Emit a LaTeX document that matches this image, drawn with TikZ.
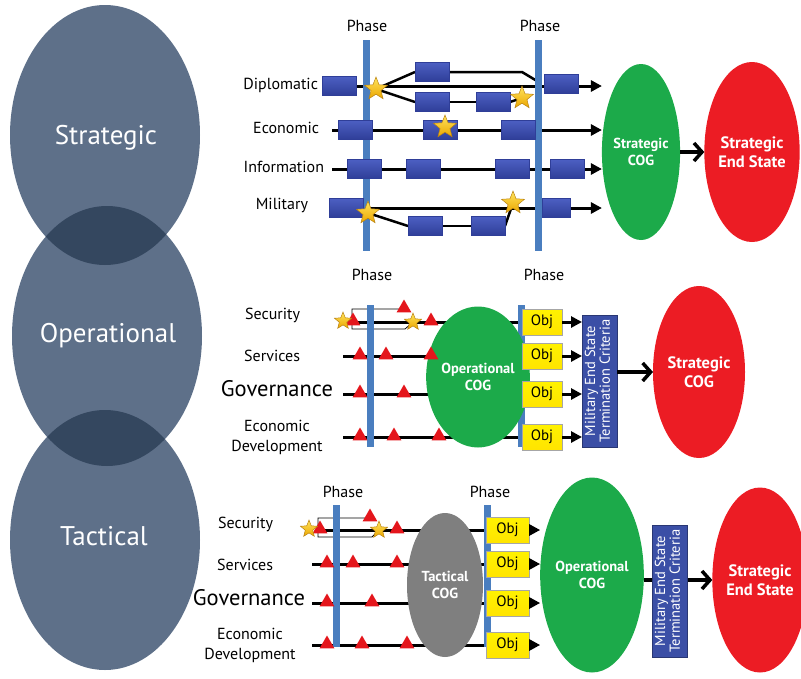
\documentclass[tikz,border=0pt]{standalone}
\usepackage{fontspec}
\setmainfont{PT Sans}
\usetikzlibrary{shapes.geometric,arrows.meta}
\pgfdeclarelayer{bglines}
\pgfsetlayers{bglines,main}
\definecolor{circ}{HTML}{5E7089}
\definecolor{lens}{HTML}{34475F}
\definecolor{phaseblue}{HTML}{4A7EBF}
\definecolor{rblueL}{HTML}{4C5FC2}
\definecolor{rblueD}{HTML}{2F3E98}
\definecolor{starL}{HTML}{FFE45C}
\definecolor{starD}{HTML}{EBA600}
\definecolor{starO}{HTML}{B98212}
\definecolor{triR}{HTML}{E4161C}
\definecolor{cogG}{HTML}{1CAA4A}
\definecolor{endR}{HTML}{EC1C24}
\definecolor{cogGray}{HTML}{7F7F7F}
\definecolor{objY}{HTML}{FFF200}
\definecolor{mesB}{HTML}{3B4FA6}
\tikzset{
 levelc/.style={ellipse, fill=circ, minimum width=190pt, minimum height=260pt},
 leveltxt/.style={text=white, font=\fontsize{27}{31}\selectfont},
 lbl/.style={font=\fontsize{16}{18}\selectfont},
 ecdlbl/.style={font=\fontsize{16}{20}\selectfont, align=center},
 govlbl/.style={font=\fontsize{22.5}{25}\selectfont},
 phasebar/.style={rectangle, fill=phaseblue, minimum width=7pt},
 phaselbl/.style={font=\fontsize{16}{18}\selectfont},
 bbox/.style={rectangle, top color=rblueL, bottom color=rblueD, draw=rblueD, line width=0.4pt, minimum width=34pt, minimum height=19pt},
 starmark/.style={star, star points=5, star point ratio=2.3, top color=starL, bottom color=starD, draw=starO, line width=0.5pt, minimum size=#1},
 starmark/.default=24pt,
 trimark/.style={regular polygon, regular polygon sides=3, fill=triR, minimum size=17pt},
 objbox/.style={rectangle, top color=objY, bottom color=objY!88!orange, draw=black!35, line width=0.5pt, minimum width=40pt, minimum height=26pt, font=\fontsize{15}{17}\selectfont},
 cog/.style={ellipse, text=white, font=\bfseries\fontsize{14.5}{17}\selectfont, align=center},
 endst/.style={ellipse, fill=endR, text=white, font=\bfseries\fontsize{16.5}{19}\selectfont, align=center},
 mesbox/.style={rectangle, fill=mesB, draw=mesB!70!black, line width=0.5pt, minimum width=35pt, minimum height=132pt, text=white, font=\fontsize{14.5}{14.5}\selectfont},
 rowline/.style={line width=3pt},
 rowarr/.style={line width=3pt, -{Triangle[length=11pt,width=11pt]}},
 branch/.style={line width=2.5pt},
 bracket/.style={line width=0.8pt},
 bigarr/.style={line width=3.5pt, -{Straight Barb[length=8pt,width=18pt]}},
}
\newcommand\mestext{\rotatebox{90}{\begin{tabular}{@{}c@{}}Military End State\\Termination Criteria\end{tabular}}}
\begin{document}
\begin{tikzpicture}[x=1pt,y=-1pt, every node/.style={inner sep=0pt, outer sep=0pt}]
\useasboundingbox (0,0) rectangle (801,678);
% ---------------- level circles
\node[levelc] (cS) at (105,135) {};
\node[levelc] (cO) at (107,336) {};
\node[levelc] (cT) at (105,540) {};
\begin{scope}
\clip (105,135) ellipse [x radius=95, y radius=130];
\fill[lens] (107,336) ellipse [x radius=95, y radius=130];
\end{scope}
\begin{scope}
\clip (107,336) ellipse [x radius=95, y radius=130];
\fill[lens] (105,540) ellipse [x radius=95, y radius=130];
\end{scope}
\node[leveltxt] (tS) at (106,138) {Strategic};
\node[leveltxt] (tO) at (108,336) {Operational};
\node[leveltxt] (tT) at (104,536) {Tactical};

% ---------------- strategic level
\node[phasebar, minimum height=211pt] (pb1) at (366,145) {};
\node[phasebar, minimum height=211pt] (pb2) at (538,145) {};
\node[phaselbl] (ph1) at (367,26) {Phase};
\node[phaselbl] (ph2) at (540,26) {Phase};
\node[lbl, anchor=east] (lDip) at (318,85) {Diplomatic};
\node[lbl, anchor=east] (lEco) at (319,128) {Economic};
\node[lbl, anchor=east] (lInf) at (324,167) {Information};
\node[lbl, anchor=east] (lMil) at (308,205) {Military};
\node[bbox] (d1) at (339,86) {};
\node[bbox] (d2) at (432,72) {};
\node[bbox] (d3) at (432,102) {};
\node[bbox] (d4) at (493,102) {};
\node[bbox] (d5) at (561,84) {};
\node[bbox] (e1) at (355,130) {};
\node[bbox] (e2) at (440,130) {};
\node[bbox] (e3) at (518,130) {};
\node[bbox] (i1) at (364,169) {};
\node[bbox] (i2) at (423,169) {};
\node[bbox] (i3) at (512,169) {};
\node[bbox] (i4) at (567,169) {};
\node[bbox] (m1) at (346,208) {};
\node[bbox] (m2) at (425,226) {};
\node[bbox] (m3) at (488,226) {};
\node[bbox, minimum width=28pt] (m4) at (556,208) {};
\node[starmark] (sd1) at (376,89) {};
\node[starmark] (sd2) at (522,98) {};
\node[starmark] (se) at (445,127) {};
\node[starmark] (sm1) at (368,213) {};
\node[starmark] (sm2) at (513,203) {};
\node[cog, fill=cogG, minimum width=76pt, minimum height=176pt] (sCOG) at (641,152) {Strategic\\COG};
\node[endst, minimum width=80pt, minimum height=180pt] (sEnd) at (752,152) {Strategic\\End State};
\draw[bigarr] (sCOG.east) -- (sEnd.west);
\coordinate (dBend) at (522,72);
\coordinate (dJoin) at (537,81);
\coordinate (eS) at (332,130);
\coordinate (iS) at (332,169);
\begin{pgfonlayer}{bglines}
\draw[rowarr] (d1.center) -- (d1.center -| sCOG.west);
\draw[branch] (sd1.center) -- (d2.west);
\draw[branch] (d2.east) -- (dBend) -- (dJoin);
\draw[branch] (sd1.center) -- (d3.west);
\draw[branch] (d3.east) -- (d4.west);
\draw[branch] (d4.east) -- (sd2.center);
\draw[rowarr] (eS) -- (eS -| sCOG.west);
\draw[rowarr] (iS) -- (iS -| sCOG.west);
\draw[rowarr] (m1.center) -- (m1.center -| sCOG.west);
\draw[branch] (sm1.center) -- (m2.west);
\draw[branch] (m2.east) -- (m3.west);
\draw[branch] (m3.east) -- (sm2.center);
\end{pgfonlayer}

% ---------------- operational level
\node[phasebar, minimum height=142pt] (pb3) at (370,376) {};
\node[phasebar, minimum height=142pt] (pb4) at (521,376) {};
\node[phaselbl] (ph3) at (372,275) {Phase};
\node[phaselbl] (ph4) at (544,275) {Phase};
\node[lbl, anchor=east] (lSec2) at (300,315) {Security};
\node[lbl, anchor=east] (lSer2) at (300,356) {Services};
\node[govlbl, anchor=east] (lGov2) at (333,389) {Governance};
\node[ecdlbl] (lEcd2) at (277,437) {Economic\\Development};
\node[cog, fill=cogG, minimum width=77pt, minimum height=141pt] (oCOG) at (478,377) {Operational\\COG};
\node[objbox] (o1) at (542,322) {Obj};
\node[objbox] (o2) at (542,356) {Obj};
\node[objbox] (o3) at (542,394) {Obj};
\node[objbox] (o4) at (542,437) {Obj};
\node[mesbox] (mes1) at (599.5,381) {\mestext};
\node[endst, minimum width=92pt, minimum height=172pt] (sCOG2) at (699,372) {Strategic\\COG};
\draw[bigarr] (mes1.east |- sCOG2.west) -- (sCOG2.west);
\foreach \k in {1,...,4} \draw[rowarr] (o\k.east) -- (o\k.east -| mes1.west);
\node[trimark] (t21) at (353,321) {};
\node[trimark] (t22) at (404,308) {};
\node[trimark] (t23) at (431,321) {};
\node[starmark=18pt] (s21) at (343,321) {};
\node[starmark=18pt] (s22) at (413,322) {};
\foreach \x [count=\i] in {360,386,431} \node[trimark] (t3\i) at (\x,355) {};
\foreach \x [count=\i] in {360,404} \node[trimark] (t4\i) at (\x,393) {};
\foreach \x [count=\i] in {360,394,439} \node[trimark] (t5\i) at (\x,436) {};
\coordinate (c21) at (352,322);
\coordinate (c22) at (343,356);
\coordinate (c23) at (343,394);
\coordinate (c24) at (343,437);
\coordinate (bk1a) at (352,309);
\coordinate (bk1b) at (401,309);
\coordinate (bk1c) at (352,329);
\coordinate (bk1d) at (405,329);
\begin{pgfonlayer}{bglines}
\draw[rowline] (c21) -- (o1.west);
\draw[rowline] (c22) -- (o2.west);
\draw[rowline] (c23) -- (o3.west);
\draw[rowline] (c24) -- (o4.west);
\draw[bracket] (bk1b) -- (bk1a) -- (bk1c) -- (bk1d) -- (s22.center);
\end{pgfonlayer}

% ---------------- tactical level
\node[phasebar, minimum height=142pt] (pb5) at (336.5,576) {};
\node[phasebar, minimum height=142pt] (pb6) at (487.5,576) {};
\node[phaselbl] (ph5) at (343,492) {Phase};
\node[phaselbl] (ph6) at (490,492) {Phase};
\node[lbl, anchor=east] (lSec3) at (273,524) {Security};
\node[lbl, anchor=east] (lSer3) at (273,565) {Services};
\node[govlbl, anchor=east] (lGov3) at (305,598) {Governance};
\node[ecdlbl] (lEcd3) at (250,645) {Economic\\Development};
\node[cog, fill=cogGray, minimum width=76pt, minimum height=144pt] (tCOG) at (445,585) {Tactical\\COG};
\node[objbox, minimum width=43pt] (q1) at (507.5,530) {Obj};
\node[objbox, minimum width=43pt] (q2) at (507.5,564) {Obj};
\node[objbox, minimum width=43pt] (q3) at (507.5,603) {Obj};
\node[objbox, minimum width=43pt] (q4) at (507.5,645) {Obj};
\node[cog, fill=cogG, minimum width=89pt, minimum height=195pt] (oCOG2) at (592,575) {Operational\\COG};
\node[endst, minimum width=80pt, minimum height=185pt] (sEnd2) at (760,580) {Strategic\\End State};
\foreach \k in {1,...,4} \draw[rowarr] (q\k.east) -- (q\k.east -| oCOG2.west);
\begin{pgfonlayer}{bglines}
\draw[bigarr] (oCOG2.east |- sEnd2.west) -- (sEnd2.west);
\end{pgfonlayer}
\node[mesbox] (mes2) at (669.5,591) {\mestext};
\node[trimark] (t61) at (320,529) {};
\node[trimark] (t62) at (370,517) {};
\node[trimark] (t63) at (397,529) {};
\node[starmark=18pt] (s61) at (309,529) {};
\node[starmark=18pt] (s62) at (379,530) {};
\foreach \x [count=\i] in {327,353,397} \node[trimark] (t7\i) at (\x,563) {};
\foreach \x [count=\i] in {327,372} \node[trimark] (t8\i) at (\x,602) {};
\foreach \x [count=\i] in {327,362,407} \node[trimark] (t9\i) at (\x,644) {};
\coordinate (c61) at (318,530);
\coordinate (c62) at (312,564);
\coordinate (c63) at (312,603);
\coordinate (c64) at (312,645);
\coordinate (bk2a) at (318,518);
\coordinate (bk2b) at (366,518);
\coordinate (bk2c) at (318,537);
\coordinate (bk2d) at (372,537);
\begin{pgfonlayer}{bglines}
\draw[rowline] (c61) -- (q1.west);
\draw[rowline] (c62) -- (q2.west);
\draw[rowline] (c63) -- (q3.west);
\draw[rowline] (c64) -- (q4.west);
\draw[bracket] (bk2b) -- (bk2a) -- (bk2c) -- (bk2d) -- (s62.center);
\end{pgfonlayer}
\end{tikzpicture}
\end{document}
